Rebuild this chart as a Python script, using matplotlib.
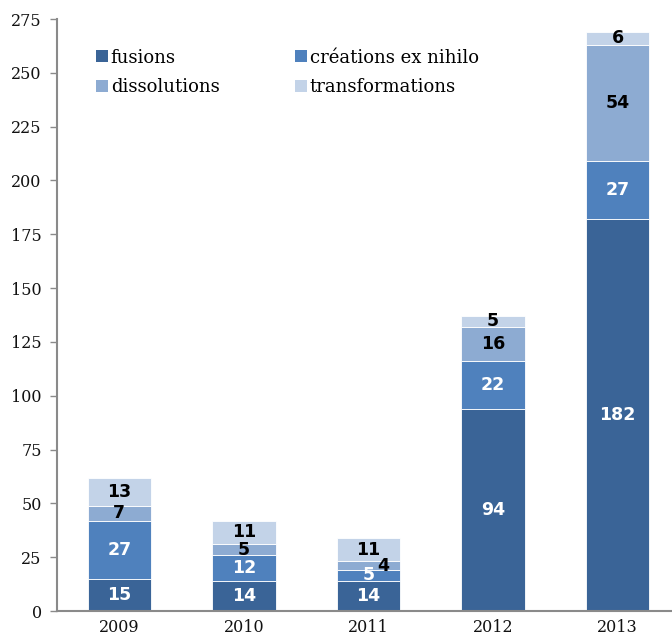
import matplotlib
matplotlib.use("Agg")
import matplotlib.pyplot as plt
import numpy as np
from matplotlib.patches import Patch

years = ["2009", "2010", "2011", "2012", "2013"]
fusions = [15, 14, 14, 94, 182]
creations = [27, 12, 5, 22, 27]
dissolutions = [7, 5, 4, 16, 54]
transformations = [13, 11, 11, 5, 6]
series_names = ["fusions", "créations ex nihilo", "dissolutions", "transformations"]
yticks = [0, 25, 50, 75, 100, 125, 150, 175, 200, 225, 250, 275]

colors = ["#3A6497", "#4F81BD", "#8DABD2", "#C3D3E8"]
label_colors = ["white", "white", "black", "black"]

fig = plt.figure(figsize=(6.72, 6.39), dpi=100)
ax = fig.add_axes([57/672, 28/639, 1 - 57/672, (611 - 19)/639])

x = np.arange(len(years))
series = [fusions, creations, dissolutions, transformations]
bottom = np.zeros(len(years))
for s, (vals, name, c, lc) in enumerate(zip(series, series_names, colors, label_colors)):
    vals = np.array(vals, dtype=float)
    ax.bar(x, vals, 0.51, bottom=bottom, color=c, edgecolor="white", linewidth=0.6, label=name)
    for i, v in enumerate(vals):
        xo = 0
        if years[i] == "2011" and s == 2:
            xo = 0.12
        ax.text(x[i] + xo, bottom[i] + v / 2, f"{int(v)}", ha="center", va="center",
                color=lc, fontsize=12.5, fontweight="bold", family="DejaVu Sans")
    bottom += vals

ax.set_ylim(0, 275)
ax.set_xlim(-0.5, -0.5 + (672 - 57) / 124.6)
ax.set_yticks(yticks)
ax.set_xticks(x)
ax.set_xticklabels(years)
for sp in ["top", "right"]:
    ax.spines[sp].set_visible(False)
for sp in ["left", "bottom"]:
    ax.spines[sp].set_color("#8a8a8a")
    ax.spines[sp].set_linewidth(1.5)
ax.tick_params(axis="y", direction="out", length=5, color="#8a8a8a", width=1,
               labelsize=11.5, pad=6)
ax.tick_params(axis="x", length=0, labelsize=11.5, pad=6)
for lab in ax.get_xticklabels() + ax.get_yticklabels():
    lab.set_family("DejaVu Serif")
    lab.set_color("#111111")

# row-wise legend order: fusions, créations / dissolutions, transformations
order = [0, 2, 1, 3]
handles = [Patch(facecolor=colors[k], edgecolor="none") for k in order]
labels = [series_names[k] for k in order]
leg = ax.legend(handles, labels, ncol=2, loc="upper left",
                bbox_to_anchor=(0.052, 0.962), frameon=False,
                prop={"family": "DejaVu Serif", "size": 13},
                handlelength=0.65, handleheight=0.65, handletextpad=0.15,
                columnspacing=4.2, labelspacing=0.65, borderaxespad=0)

fig.savefig("out.png", dpi=100)
